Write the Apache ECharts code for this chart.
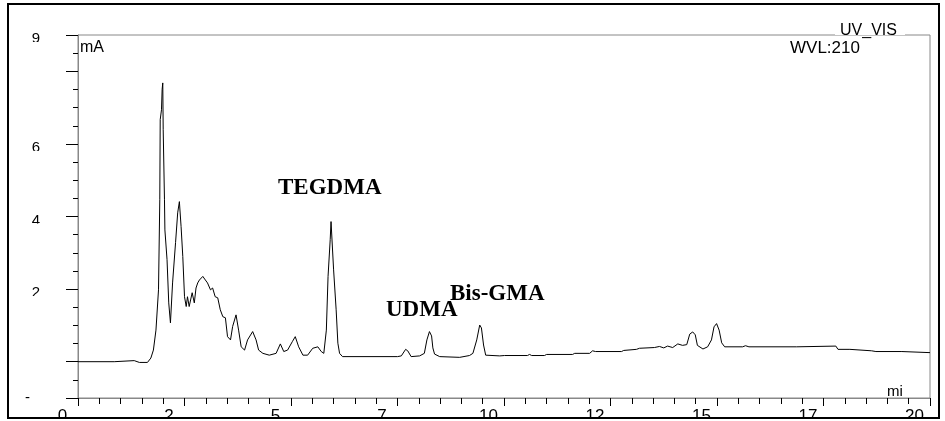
<!DOCTYPE html>
<html><head><meta charset="utf-8">
<script src="https://cdn.jsdelivr.net/npm/echarts@6/dist/echarts.min.js"></script>
<style>html,body{margin:0;padding:0;background:#fff}#c{width:945px;height:421px}</style>
</head><body><div id="c"></div>
<script>
// retention time (min)
const times = [0, 0.85, 0.88, 1.32, 1.44, 1.63, 1.71, 1.77, 1.83, 1.89,
  1.92, 1.93, 1.96, 1.975, 1.99, 2.00, 2.03, 2.04, 2.09, 2.13,
  2.17, 2.22, 2.29, 2.34, 2.38, 2.42, 2.46, 2.50, 2.54, 2.57,
  2.61, 2.68, 2.73, 2.77, 2.81, 2.85, 2.93, 2.99, 3.04, 3.11,
  3.16, 3.22, 3.28, 3.34, 3.40, 3.46, 3.51, 3.58, 3.63, 3.71,
  3.77, 3.83, 3.91, 3.98, 4.10, 4.18, 4.24, 4.34, 4.49, 4.65,
  4.75, 4.83, 4.92, 5.03, 5.10, 5.18, 5.28, 5.39, 5.51, 5.63,
  5.71, 5.77, 5.83, 5.87, 5.92, 5.94, 5.98, 6.00, 6.06, 6.10,
  6.14, 6.21, 7.50, 7.59, 7.69, 7.74, 7.82, 8.02, 8.13, 8.19,
  8.25, 8.30, 8.33, 8.37, 8.49, 8.96, 9.19, 9.27, 9.36, 9.43,
  9.47, 9.52, 9.57, 9.90, 10.01, 10.55, 10.60, 10.65, 10.95, 11.00,
  11.61, 11.66, 12.01, 12.08, 12.15, 12.76, 12.81, 13.11, 13.18, 13.53,
  13.65, 13.75, 13.84, 13.96, 14.08, 14.19, 14.29, 14.36, 14.43, 14.49,
  14.54, 14.67, 14.78, 14.87, 14.93, 14.99, 15.05, 15.11, 15.18, 15.60,
  15.67, 15.75, 16.87, 16.90, 17.79, 17.84, 18.12, 18.14, 18.63, 18.66,
  18.73, 19.34, 19.36, 20.0];
// detector signal (mAU)
const signal = [0, 0, 3, 3, -2, -2, 10, 32, 87, 198,
  446, 667, 694, 750, 768, 639, 446, 363, 281, 162,
  107, 217, 328, 410, 441, 372, 290, 179, 152, 179,
  152, 190, 162, 203, 217, 225, 235, 225, 217, 198,
  203, 179, 176, 143, 124, 121, 69, 60, 97, 129,
  87, 41, 32, 60, 83, 60, 32, 23, 18, 23,
  49, 28, 32, 55, 69, 41, 18, 18, 37, 41,
  28, 23, 87, 235, 336, 386, 382, 253, 143, 51,
  23, 14, 14, 16, 34, 30, 14, 16, 23, 60,
  83, 71, 38, 21, 14, 12, 17, 23, 60, 101,
  93, 46, 18, 16, 17, 17, 20, 17, 17, 20,
  20, 23, 23, 30, 28, 28, 31, 34, 37, 39,
  42, 38, 43, 39, 49, 45, 47, 76, 82, 74,
  45, 35, 41, 60, 96, 105, 87, 52, 41, 41,
  44, 41, 41, 43, 43, 34, 34, 30, 30, 32,
  28, 28, 25, 25];

const xTickValues = [0, 2.5, 5, 7.5, 10, 12.5, 15, 17.5, 20];
const xTickLabels = ['0', '2', '5', '7', '10', '12', '15', '17', '20'];
const yMajorTicks = [-100, 0, 200, 400, 600, 800, 900];
const yLabelValues = [900, 600, 400, 200, -100];
const yLabelTexts = ['9', '6', '4', '2', '-'];
const peakNames = ['TEGDMA', 'UDMA', 'Bis-GMA'];
const unitY = 'mA';
const unitX = 'mi';
const detectorText = 'UV_VIS';
const wavelengthText = 'WVL:210';

const SANS = '"Liberation Sans", Arial, sans-serif';
const SERIF = '"Liberation Serif", "Times New Roman", serif';

const chart = echarts.init(document.getElementById('c'), null, {renderer: 'canvas'});
const data = times.map((t, i) => [t, signal[i]]);

function txt(text, x, y, font, z) {
  return {type: 'text', x: x, y: y, z: z || 110,
    style: {text: text, font: font, fill: '#000', align: 'left', verticalAlign: 'top'}};
}
function white(x, y, w, h) {
  return {type: 'rect', z: 105, shape: {x: x, y: y, width: w, height: h}, style: {fill: '#fff'}, silent: true};
}

const option = {
  animation: false,
  backgroundColor: '#fff',
  grid: {left: 78, right: 15, top: 35, bottom: 23, containLabel: false, outerBoundsMode: 'none',
    show: true, borderColor: '#888', borderWidth: 1, backgroundColor: 'transparent'},
  xAxis: {
    type: 'value', min: 0, max: 20, interval: 2.5,
    axisLine: {show: true, onZero: false, lineStyle: {color: '#888', width: 1}},
    axisTick: {show: true, length: 8, lineStyle: {color: '#000'}},
    minorTick: {show: true, splitNumber: 5, length: 6, lineStyle: {color: '#000'}},
    splitLine: {show: false}, minorSplitLine: {show: false},
    axisLabel: {show: true, margin: 10, fontSize: 17, fontFamily: SANS, color: '#000', padding: [0, 31, 0, 0],
      formatter: v => { const i = xTickValues.indexOf(v); return i >= 0 ? xTickLabels[i] : ''; }}
  },
  yAxis: [{
    type: 'value', min: -100, max: 900, interval: 50,
    axisLine: {show: true, onZero: false, lineStyle: {color: '#888'}},
    axisTick: {show: true, length: 5, lineStyle: {color: '#000'}},
    axisLabel: {show: false}, splitLine: {show: false}
  }, {
    type: 'value', min: -100, max: 900, interval: 50, position: 'left', offset: 0,
    axisLine: {show: false},
    axisTick: {show: true, length: 12, customValues: yMajorTicks, lineStyle: {color: '#000'}},
    axisLabel: {show: true, margin: 38, fontSize: 15, fontFamily: SANS, color: '#000', padding: [8, 0, 0, 0],
      formatter: v => { const i = yLabelValues.indexOf(v); if (i < 0) return ''; return v < 0 ? '{m|' + yLabelTexts[i] + '}' : yLabelTexts[i]; },
      rich: {m: {fontSize: 15, fontFamily: SANS, color: '#000', padding: [0, 10, 8, 0]}}},
    splitLine: {show: false}
  }],
  series: [{
    type: 'line', data: data, xAxisIndex: 0, yAxisIndex: 0,
    showSymbol: false, symbol: 'none', silent: true,
    lineStyle: {color: '#000', width: 1}
  }]
};
chart.setOption(option);

const g = [];
// clip the lower part of y labels like the reference
yLabelValues.filter(v => v > 0).forEach(v => {
  const py = chart.convertToPixel({yAxisIndex: 0}, v);
  g.push(white(14, py + 7, 44, 9));
});
g.push(txt(unitY, 80, 40, '16px ' + SANS));
g.push(white(80, 50, 32, 6));
g.push(txt(detectorText, 840, 23, '16px ' + SANS));
g.push(white(835, 33.5, 70, 1.5));
g.push(white(835, 36, 70, 3.5));
g.push(txt(wavelengthText, 790, 40, '17px ' + SANS));
g.push(white(785, 50, 95, 6));
g.push(txt(unitX, 887, 384, '15px ' + SANS));
g.push(txt(peakNames[0], 278, 177, 'bold 23px ' + SERIF));
g.push(txt(peakNames[1], 386, 299, 'bold 23px ' + SERIF));
g.push(txt(peakNames[2], 450, 283, 'bold 23px ' + SERIF));
g.push(white(0, 419, 945, 2));
g.push({type: 'rect', z: 120, shape: {x: 8, y: 4, width: 931, height: 414},
  style: {fill: 'none', stroke: '#000', lineWidth: 2}, silent: true});
chart.setOption({graphic: g});
</script>
</body></html>
